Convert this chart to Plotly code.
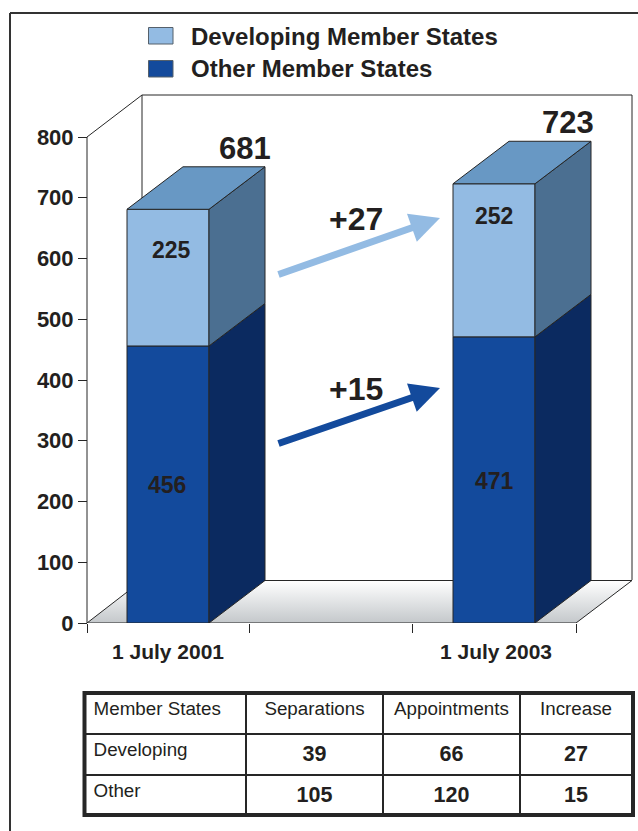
import plotly.graph_objects as go

# ---------- data ----------
dates = ["1 July 2001", "1 July 2003"]
other = [456, 471]
developing = [225, 252]
totals = [681, 723]
changes = ["+15", "+27"]
y_ticks = [0, 100, 200, 300, 400, 500, 600, 700, 800]
series_names = ["Developing Member States", "Other Member States"]
table_header = ["\u200aMember States", "Separations", "Appointments", "Increase"]
table_groups = ["\u200aDeveloping", "\u200aOther"]
separations = [39, 105]
appointments = [66, 120]
increases = [27, 15]

# ---------- layout constants (pixels of the 638x831 page) ----------
W, H = 638, 831
X0_PX, X_UNIT_PX = 168, 326
Y0_PX, Y_UNIT_PX = 623, 486 / 800
BAR_W = 82 / X_UNIT_PX
DX = 56 / X_UNIT_PX
DY = 42.5 / Y_UNIT_PX
FONT = "Liberation Sans"
INK = "#231F20"
EDGE = "#262626"
C_LIGHT, C_LIGHT_TOP, C_LIGHT_SIDE = "#93BBE3", "#6898C4", "#4B6F91"
C_DARK, C_DARK_SIDE = "#134A9C", "#0B2A60"


def xv(px):
    return (px - X0_PX) / X_UNIT_PX


def yv(py):
    return (Y0_PX - py) / Y_UNIT_PX


x_range = [xv(0), xv(W)]
y_range = [0, yv(0)]
y_domain = [(H - Y0_PX) / H, 1]
positions = list(range(len(dates)))

fig = go.Figure()

# floor (on the primary axes, so that the bars sit in front of it)
fx = [xv(87), xv(576), xv(632), xv(142), xv(87)]
fy = [0, 0, DY, DY, 0]
fig.add_trace(go.Scatter(
    x=fx, y=fy, mode="lines", fill="toself", showlegend=False, hoverinfo="skip",
    line=dict(color=EDGE, width=1),
    fillgradient=dict(type="vertical", colorscale=[[0, "#C4C8CB"], [1, "#FFFFFF"]]),
))

# front faces
fig.add_trace(go.Bar(x=positions, y=other, width=BAR_W, name=series_names[1], xaxis="x2", yaxis="y2",
                     marker=dict(color=C_DARK, line=dict(color=EDGE, width=1)), showlegend=False))
fig.add_trace(go.Bar(x=positions, y=developing, base=other, width=BAR_W, name=series_names[0], xaxis="x2", yaxis="y2",
                     marker=dict(color=C_LIGHT, line=dict(color=EDGE, width=1)), showlegend=False))


def poly(xs, ys, color):
    fig.add_trace(go.Scatter(
        x=xs + xs[:1], y=ys + ys[:1], mode="lines", fill="toself", fillcolor=color,
        line=dict(color=EDGE, width=1), showlegend=False, hoverinfo="skip", xaxis="x2", yaxis="y2",
    ))


# side and top faces, computed from the values
for p, o, d in zip(positions, other, developing):
    r = p + BAR_W / 2
    l = p - BAR_W / 2
    t = o + d
    poly([r, r + DX, r + DX, r], [0, DY, o + DY, o], C_DARK_SIDE)
    poly([r, r + DX, r + DX, r], [o, o + DY, t + DY, t], C_LIGHT_SIDE)
    poly([l, r, r + DX, l + DX], [t, t, t + DY, t + DY], C_LIGHT_TOP)

# table
fig.add_trace(go.Table(
    domain=dict(x=[84 / W, 632.5 / W], y=[(H - 815) / H, (H - 693) / H]),
    columnwidth=[162, 137, 137, 112],
    header=dict(values=table_header, height=41, align=["left", "center", "center", "center"],
                font=dict(family=FONT, size=18.8, color=INK), fill=dict(color="white"),
                line=dict(color=EDGE, width=2)),
    cells=dict(values=[table_groups,
                       [f"<b>{v}</b>" for v in separations],
                       [f"<b>{v}</b>" for v in appointments],
                       [f"<b>{v}</b>" for v in increases]],
               height=40.5, align=["left", "center", "center", "center"],
               font=dict(family=FONT, size=[18.8, 21.5, 21.5, 21.5], color=INK),
               fill=dict(color="white"), line=dict(color=EDGE, width=2)),
))


# static frame lines
def line(x0, y0, x1, y1, color=EDGE, width=1, ref="data"):
    if ref == "data":
        fig.add_shape(type="line", x0=xv(x0), y0=yv(y0), x1=xv(x1), y1=yv(y1), xref="x", yref="y",
                      line=dict(color=color, width=width), layer="below")
    else:
        fig.add_shape(type="line", x0=x0 / W, y0=1 - y0 / H, x1=x1 / W, y1=1 - y1 / H, xref="paper", yref="paper",
                      line=dict(color=color, width=width), layer="above")


line(87, 623, 87, 137)
line(87, 137, 142, 95)
line(142, 95, 632, 95)
line(632, 95, 632, 580)
line(142, 95, 142, 580)
line(10, 13, 638, 13, color="#333333", width=2, ref="paper")
line(10, 13, 10, 831, color="#333333", width=2, ref="paper")

# outer thick border of the table
fig.add_shape(type="rect", x0=84.5 / W, x1=633 / W, y0=1 - 815 / H, y1=1 - 693 / H, xref="paper", yref="paper",
              line=dict(color=EDGE, width=4), layer="above")

# legend
for i, (name, color) in enumerate(zip(series_names, [C_LIGHT, C_DARK])):
    top = 27.5 + 33 * i
    fig.add_shape(type="rect", x0=148.5 / W, x1=173 / W, y0=1 - top / H, y1=1 - (top + 16.5) / H, xref="paper",
                  yref="paper", fillcolor=color, line=dict(color="#55606B", width=1))
    fig.add_annotation(x=189 / W, y=1 - (36.5 + 32.5 * i) / H, xref="paper", yref="paper", text=f"<b>{name}</b>",
                       showarrow=False, xanchor="left", yanchor="middle", font=dict(family=FONT, size=24, color=INK))


def note(text, px, py, size):
    fig.add_annotation(x=xv(px), y=yv(py), xref="x", yref="y", text=f"<b>{text}</b>", showarrow=False,
                       font=dict(family=FONT, size=size, color=INK))


for text, px, py in zip(map(str, other), [167, 494], [485, 481]):
    note(text, px, py, 23)
for text, px, py in zip(map(str, developing), [171, 494], [250, 216]):
    note(text, px, py, 23)
for text, px, py in zip(map(str, totals), [245, 568], [148, 122]):
    note(text, px, py, 31)
for text, py in zip(changes, [389, 219]):
    note(text, 356, py, 32)

# change arrows
for color, tail_y, tip_y in [(C_DARK, 444, 388), (C_LIGHT, 275, 218)]:
    fig.add_annotation(x=xv(440), y=yv(tip_y), xref="x", yref="y", ax=-163, ay=tail_y - tip_y, axref="pixel",
                       ayref="pixel", text="", showarrow=True, arrowhead=2, arrowsize=0.85, arrowwidth=7,
                       arrowcolor=color, standoff=0)

fig.update_layout(
    width=W, height=H, margin=dict(l=0, r=0, t=0, b=0), autosize=False,
    paper_bgcolor="white", plot_bgcolor="white", barmode="overlay", showlegend=False, hovermode=False,
    xaxis=dict(domain=[0, 1], range=x_range, showgrid=False, zeroline=False, showline=False,
               automargin=False, tickmode="array", tickvals=[0, xv(496)], ticktext=[f"<b>{d}</b>" for d in dates],
               tickfont=dict(family=FONT, size=21, color=INK), ticks="outside", ticklen=10,
               tickcolor="rgba(0,0,0,0)", anchor="y",
               minor=dict(tickmode="array", tickvals=[xv(87), xv(249), xv(412), xv(576)], ticks="outside",
                          ticklen=9, tickcolor=EDGE, tickwidth=1, showgrid=False)),
    yaxis=dict(domain=y_domain, range=y_range, showgrid=False, zeroline=False, showline=False, automargin=False,
               tickmode="array", tickvals=y_ticks, ticktext=[f"<b>{v}</b>" for v in y_ticks],
               tickfont=dict(family=FONT, size=22, color=INK), ticks="outside", ticklen=9,
               tickcolor=EDGE, tickwidth=1, anchor="free", position=87 / W, side="left"),
    xaxis2=dict(overlaying="x", matches="x", visible=False, anchor="y2", domain=[0, 1]),
    yaxis2=dict(overlaying="y", matches="y", visible=False, anchor="x2", domain=y_domain),
)

fig.write_html("out.html", config=dict(displayModeBar=False),
               post_script="document.body.style.margin='0';")
